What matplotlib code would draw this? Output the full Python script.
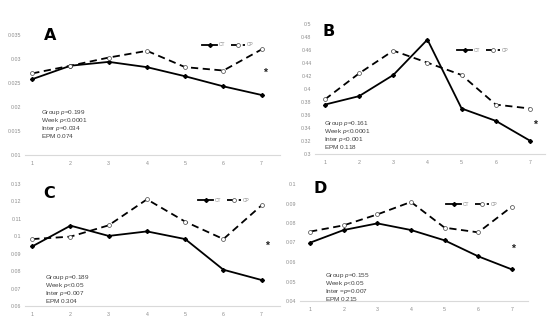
import matplotlib
matplotlib.use("Agg")
import matplotlib.pyplot as plt

W, H = 550, 321
weeks = [1, 2, 3, 4, 5, 6, 7]

a_ct = [0.0258, 0.0286, 0.0294, 0.0283, 0.0264, 0.0243, 0.0225]
a_cp = [0.0270, 0.0286, 0.0303, 0.0317, 0.0283, 0.0276, 0.0320]
b_ct = [0.376, 0.389, 0.4215, 0.476, 0.370, 0.351, 0.3205]
b_cp = [0.384, 0.424, 0.459, 0.4405, 0.4215, 0.376, 0.370]
c_ct = [0.0942, 0.1061, 0.1002, 0.1028, 0.0984, 0.0808, 0.0749]
c_cp = [0.0984, 0.0998, 0.1063, 0.1212, 0.1084, 0.0984, 0.1178]
d_ct = [0.0699, 0.0764, 0.0798, 0.0764, 0.0711, 0.0629, 0.0562]
d_cp = [0.0756, 0.0788, 0.0844, 0.0908, 0.0776, 0.0752, 0.0884]

a_yticks = [0.01, 0.015, 0.02, 0.025, 0.03, 0.035]
a_ylabels = ["0.01", "0.015", "0.02", "0.025", "0.03", "0.035"]
b_yticks = [0.3, 0.32, 0.34, 0.36, 0.38, 0.4, 0.42, 0.44, 0.46, 0.48, 0.5]
b_ylabels = ["0.3", "0.32", "0.34", "0.36", "0.38", "0.4", "0.42", "0.44", "0.46", "0.48", "0.5"]
c_yticks = [0.06, 0.07, 0.08, 0.09, 0.1, 0.11, 0.12, 0.13]
c_ylabels = ["0.06", "0.07", "0.08", "0.09", "0.1", "0.11", "0.12", "0.13"]
d_yticks = [0.04, 0.05, 0.06, 0.07, 0.08, 0.09, 0.1]
d_ylabels = ["0.04", "0.05", "0.06", "0.07", "0.08", "0.09", "0.1"]

a_stats = ["Group $\\it{p}$=0.199", "Week $\\it{p}$<0.0001", "Inter $\\it{p}$=0.034", "EPM $\\mathrm{0.074}$"]
b_stats = ["Group $\\it{p}$=0.161", "Week $\\it{p}$<0.0001", "Inter $\\it{p}$<0.001", "EPM $\\mathrm{0.118}$"]
c_stats = ["Group $\\it{p}$=0.189", "Week $\\it{p}$<0.05", "Inter $\\it{p}$=0.007", "EPM $\\mathrm{0.304}$"]
d_stats = ["Group $\\it{p}$=0.155", "Week $\\it{p}$<0.05", "Inter =$\\it{p}$=0.007", "EPM $\\mathrm{0.215}$"]

a_star = (7.08, 0.0272)
b_star = (7.14, 0.345)
c_star = (7.13, 0.0946)
d_star = (7.04, 0.067)

plt.rcParams['font.family'] = ['Liberation Sans', 'DejaVu Sans']
plt.rcParams['mathtext.fontset'] = 'custom'
plt.rcParams['mathtext.it'] = 'Liberation Sans:italic'
plt.rcParams['mathtext.rm'] = 'Liberation Sans'

fig = plt.figure(figsize=(W / 100, H / 100), dpi=100)
fig.patch.set_facecolor('white')

def px(x0, y0, x1, y1):
    return [x0 / W, 1 - y1 / H, (x1 - x0) / W, (y1 - y0) / H]

panels = [
    dict(rect=px(25, 35, 280, 155), xlim=(0.81, 7.48), ylim=(0.01, 0.035), ct=a_ct, cp=a_cp,
         yt=a_yticks, yl=a_ylabels, stats=a_stats, star=a_star, letter="A", lpos=(50, 36),
         spos=(41, 108), leg=(200, 45)),
    dict(rect=px(315, 24, 545, 154), xlim=(0.71, 7.44), ylim=(0.3, 0.5), ct=b_ct, cp=b_cp,
         yt=b_yticks, yl=b_ylabels, stats=b_stats, star=b_star, letter="B", lpos=(329, 31),
         spos=(324, 119), leg=(455, 50)),
    dict(rect=px(25, 184, 280, 306), xlim=(0.81, 7.48), ylim=(0.06, 0.13), ct=c_ct, cp=c_cp,
         yt=c_yticks, yl=c_ylabels, stats=c_stats, star=c_star, letter="C", lpos=(49, 193),
         spos=(45, 273), leg=(196, 200)),
    dict(rect=px(300, 184, 528, 301), xlim=(0.7, 7.48), ylim=(0.04, 0.1), ct=d_ct, cp=d_cp,
         yt=d_yticks, yl=d_ylabels, stats=d_stats, star=d_star, letter="D", lpos=(320, 189),
         spos=(325, 271), leg=(444, 204)),
]

grey = '#8c8c8c'
txt = '#404040'
for p in panels:
    ax = fig.add_axes(p['rect'])
    ax.set_xlim(*p['xlim'])
    ax.set_ylim(*p['ylim'])
    ax.plot(weeks, p['ct'], color='black', lw=1.3, marker='D', ms=2.0,
            mfc='black', mec='black', label='CT', clip_on=False)
    ax.plot(weeks, p['cp'], color='black', lw=1.3, ls=(0, (4, 2.5)), marker='o', ms=2.8,
            mfc='white', mec='#444444', mew=0.5, label='CP', clip_on=False)
    ax.text(p['star'][0], p['star'][1], '*', fontsize=7.5, ha='center', va='center',
            color='#222222', fontweight='bold')
    for s in ['top', 'right', 'left']:
        ax.spines[s].set_visible(False)
    ax.spines['bottom'].set_color('#d9d9d9')
    ax.spines['bottom'].set_linewidth(0.8)
    ax.set_xticks(weeks)
    ax.set_xticklabels([str(w) for w in weeks])
    ax.set_yticks(p['yt'])
    ax.set_yticklabels(p['yl'])
    ax.tick_params(length=0, labelsize=3.8, colors=grey, pad=2.5)
    ax.tick_params(axis='x', pad=4)
    ax.set_facecolor('none')
    ax.legend(loc='center left', bbox_to_anchor=(p['leg'][0] / W, 1 - p['leg'][1] / H),
              bbox_transform=fig.transFigure, ncol=2, frameon=False, fontsize=3.5,
              handlelength=3.0, handletextpad=0.3, columnspacing=1.2, borderpad=0,
              labelcolor=grey)
    fig.text(p['lpos'][0] / W, 1 - p['lpos'][1] / H, p['letter'], fontsize=11.5,
             fontweight='heavy', ha='center', va='center', family='DejaVu Sans', color='black')
    fig.text(p['spos'][0] / W, 1 - p['spos'][1] / H, "\n".join(p['stats']), fontsize=4.6,
             ha='left', va='top', color=txt, linespacing=0.85)

fig.savefig('out.png', dpi=100, facecolor='white')
